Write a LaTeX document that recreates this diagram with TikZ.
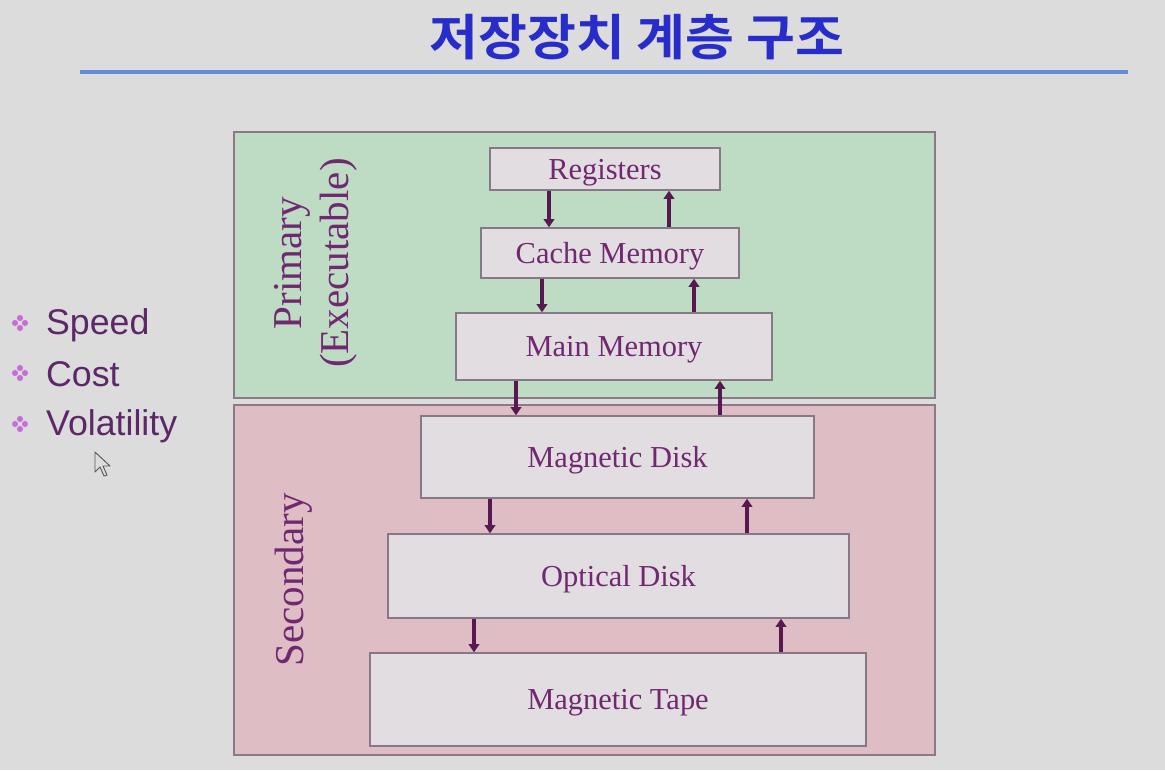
\documentclass[tikz,border=0pt]{standalone}
\usepackage{fontspec}
\setmainfont{Liberation Serif}
\setsansfont{Liberation Sans}
\newfontfamily\krfont{Noto Sans CJK KR Bold}
\usetikzlibrary{arrows.meta,calc}
\definecolor{bg}{RGB}{220,220,220}
\definecolor{titleblue}{RGB}{40,44,200}
\definecolor{lineblue}{RGB}{100,140,215}
\definecolor{greenfill}{RGB}{190,220,196}
\definecolor{pinkfill}{RGB}{222,190,196}
\definecolor{regionborder}{RGB}{140,120,135}
\definecolor{boxfill}{RGB}{226,221,224}
\definecolor{boxborder}{RGB}{135,120,135}
\definecolor{txtpurple}{RGB}{112,40,112}
\definecolor{arrowpurple}{RGB}{88,24,80}
\definecolor{bulletpurple}{RGB}{196,110,214}
\definecolor{bullettext}{RGB}{92,40,104}
\begin{document}
\begin{tikzpicture}[x=0.03cm,y=-0.03cm,
  region/.style={draw=regionborder,line width=1.2pt,inner sep=0pt},
  memb/.style={draw=boxborder,line width=1.2pt,fill=boxfill,inner sep=0pt,
    text=txtpurple,font=\fontsize{26}{28}\selectfont,text depth=0pt},
  sidelab/.style={rotate=90,text=txtpurple,font=\fontsize{35}{40}\selectfont,align=center},
  flow/.style={draw=arrowpurple,line width=2.8pt,-{Triangle[width=9pt,length=7pt]}},
  bullettxt/.style={anchor=west,text=bullettext,font=\sffamily\fontsize{30.5}{32}\selectfont},
]
\fill[bg] (0,0) rectangle (1165,770);
\useasboundingbox (0,0) rectangle (1165,770);

% title
\node[text=titleblue,font=\krfont\fontsize{42}{46}\selectfont,xscale=1.08] (title) at (637,37) {저장장치 계층 구조};
\draw[lineblue,line width=3.5pt] (80,72) -- (1128,72);

% regions
\node[region,fill=greenfill,minimum width=21.03cm,minimum height=7.98cm] (prim) at (584.5,265) {};
\node[region,fill=pinkfill,minimum width=21.03cm,minimum height=10.5cm] (sec) at (584.5,580) {};
\node[sidelab] (primlab) at (316,263) {Primary\\(Executable)};
\node[sidelab] (seclab) at (294,580) {Secondary};

% memory boxes
\node[memb,minimum width=6.9cm,minimum height=1.26cm] (reg) at (605,169) {Registers};
\node[memb,minimum width=7.74cm,minimum height=1.5cm] (cache) at (610,253) {Cache Memory};
\node[memb,minimum width=9.48cm,minimum height=2.01cm] (main) at (614,346.5) {Main Memory};
\node[memb,minimum width=11.79cm,minimum height=2.46cm] (mdisk) at (617.5,457) {Magnetic Disk};
\node[memb,minimum width=13.83cm,minimum height=2.52cm] (odisk) at (618.5,576) {Optical Disk};
\node[memb,minimum width=14.88cm,minimum height=2.79cm] (tape) at (618,699.5) {Magnetic Tape};

% arrows
\draw[flow] (549,0 |- reg.south) -- (549,0 |- cache.north);
\draw[flow] (669,0 |- cache.north) -- (669,0 |- reg.south);
\draw[flow] (542,0 |- cache.south) -- (542,0 |- main.north);
\draw[flow] (694,0 |- main.north) -- (694,0 |- cache.south);
\draw[flow] (516,0 |- main.south) -- (516,0 |- mdisk.north);
\draw[flow] (720,0 |- mdisk.north) -- (720,0 |- main.south);
\draw[flow] (490,0 |- mdisk.south) -- (490,0 |- odisk.north);
\draw[flow] (747,0 |- odisk.north) -- (747,0 |- mdisk.south);
\draw[flow] (474,0 |- odisk.south) -- (474,0 |- tape.north);
\draw[flow] (781,0 |- tape.north) -- (781,0 |- odisk.south);

% bullets
\foreach \yy/\nm in {323/b1,373/b2,424/b3}{
  \coordinate (\nm) at (20,\yy);
  \fill[bulletpurple] ($(\nm)+(0,-5)$) circle (2.6pt) ($(\nm)+(0,5)$) circle (2.6pt)
    ($(\nm)+(-5,0)$) circle (2.6pt) ($(\nm)+(5,0)$) circle (2.6pt);
}
\node[bullettxt] (t1) at (42,325) {Speed};
\node[bullettxt] (t2) at (42,374) {Cost};
\node[bullettxt] (t3) at (42,426) {Volatility};

% mouse cursor
\draw[gray!70!black,fill=bg,line width=0.8pt,line join=round]
  (95,452) -- (95,472) -- (100,467) -- (104,476) -- (107,475) -- (103,466) -- (110,466) -- cycle;
\end{tikzpicture}
\end{document}
